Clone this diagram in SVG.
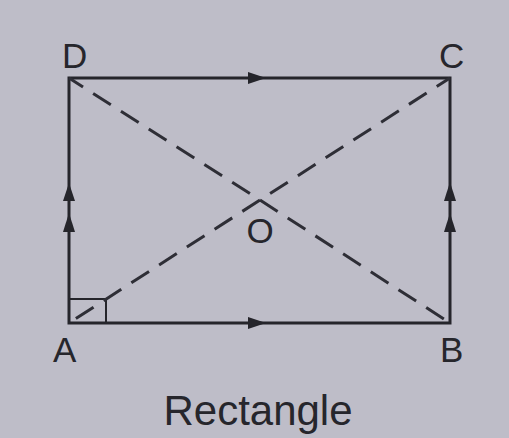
<svg xmlns="http://www.w3.org/2000/svg" width="509" height="438" viewBox="0 0 509 438">
<style>
.edge{stroke:#25252b;stroke-width:3;fill:none;stroke-linecap:square}
.dash{stroke:#2e2e36;stroke-width:3;fill:none;stroke-dasharray:21 12}
.dashup{stroke-dashoffset:21}
.arr{fill:#25252b}
.lbl{font-family:"Liberation Sans",Arial,sans-serif;font-size:35px;fill:#26262c}
.title{font-family:"Liberation Sans",Arial,sans-serif;font-size:42px;fill:#26262c}
</style>
<rect width="509" height="438" fill="#bebdc8"/>
<g id="rectangle">
<path class="edge" d="M69 78 H450 V323 H69 Z"/>
<path d="M69 299 H106 V323" fill="none" stroke="#25252b" stroke-width="2"/>
</g>
<g id="diagonals">
<path class="dash" d="M260 200 L69 323"/>
<path class="dash dashup" d="M260 200 L450 78"/>
<path class="dash" d="M260 200 L450 323"/>
<path class="dash dashup" d="M260 200 L69 78"/>
</g>
<g id="arrows">
<polygon class="arr" points="69,183 63,201 75,201"/>
<polygon class="arr" points="69,213 63,232 75,232"/>
<polygon class="arr" points="450,182 444,201 456,201"/>
<polygon class="arr" points="450,213 444,232 456,232"/>
<polygon class="arr" points="266,78 248,72 248,84"/>
<polygon class="arr" points="266,323 248,317 248,329"/>
</g>
<g id="labels">
<text class="lbl" x="62" y="68">D</text>
<text class="lbl" x="439" y="68">C</text>
<text class="lbl" x="53" y="362">A</text>
<text class="lbl" x="440" y="362">B</text>
<text class="lbl" x="260" y="243" text-anchor="middle">O</text>
<text class="title" x="258" y="425" text-anchor="middle">Rectangle</text>
</g>
</svg>
